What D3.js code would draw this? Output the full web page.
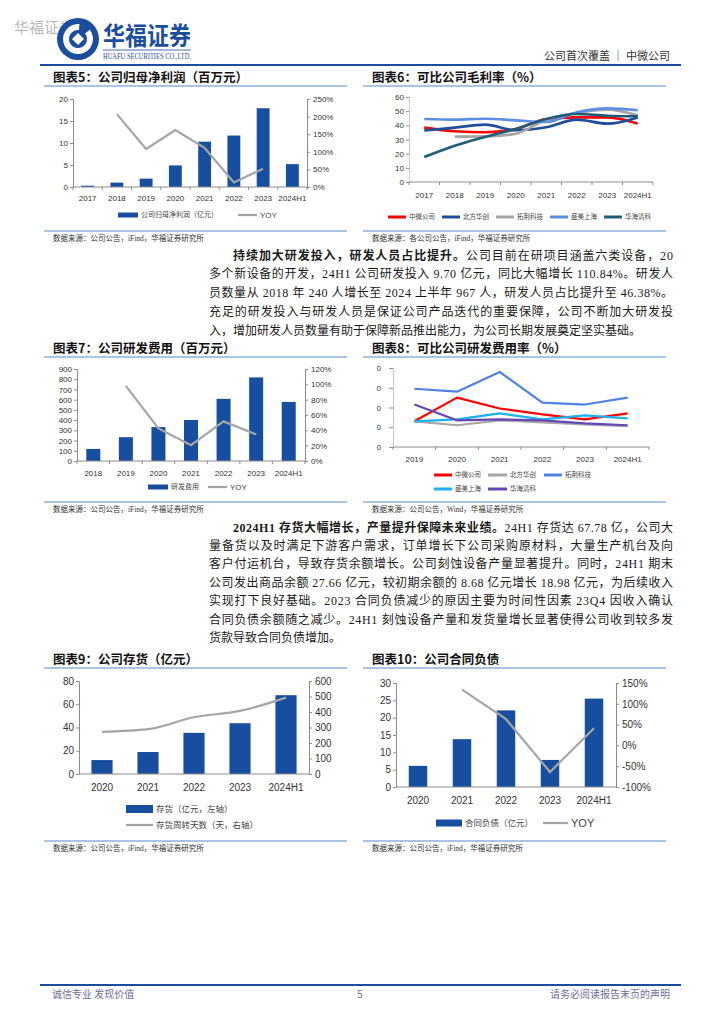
<!DOCTYPE html>
<html><head><meta charset="utf-8">
<script src="https://cdn.jsdelivr.net/npm/d3@7"></script>
<style>body{margin:0;background:#fff}svg{display:block}</style>
</head><body>
<svg id="page" width="724" height="1024"></svg>
<script>
// ---------------- DATA ----------------
const ch5Cats = ["2017","2018","2019","2020","2021","2022","2023","2024H1"];
const ch5Profit = [0.3, 1.0, 1.9, 4.9, 10.3, 11.7, 17.9, 5.2];
const ch5Yoy = [null, 207, 108, 162, 111, 13, 52, null];
const ch5LeftTicks = [0, 5, 10, 15, 20];
const ch5RightTicks = [0, 50, 100, 150, 200, 250];

const ch6Cats = ["2017","2018","2019","2020","2021","2022","2023","2024H1"];
const ch6Names = ["中微公司","北方华创","拓荆科技","盛美上海","华海清科"];
const ch6AMEC = [38.4, 35.8, 35.1, 37.4, 44.5, 45.6, 45.6, 41.2];
const ch6Naura = [36.3, 38.4, 40.5, 36.5, 38.6, 44.0, 41.2, 45.6];
const ch6Piotech = [null, 32.0, 32.2, 34.1, 44.0, 48.7, 51.1, 47.1];
const ch6ACM = [44.5, 44.0, 44.7, 43.5, 42.4, 49.2, 52.0, 50.6];
const ch6Hwatsing = [17.6, 25.6, 31.8, 37.4, 44.5, 48.0, 46.8, 46.4];
const ch6Ticks = [0, 10, 20, 30, 40, 50, 60];

const ch7Cats = ["2018","2019","2020","2021","2022","2023","2024H1"];
const ch7RD = [118, 233, 332, 401, 608, 818, 578];
const ch7Yoy = [null, 98, 42.5, 20.6, 51.7, 34.6, null];
const ch7LeftTicks = [0, 100, 200, 300, 400, 500, 600, 700, 800, 900];
const ch7RightTicks = [0, 20, 40, 60, 80, 100, 120];

const ch8Cats = ["2019","2020","2021","2022","2023","2024H1"];
const ch8Names = ["中微公司","北方华创","拓荆科技","盛美上海","华海清科"];
const ch8AMEC = [13, 25, 19.5, 16.5, 14, 17];
const ch8Naura = [13, 11, 13.5, 12.5, 11.5, 10.5];
const ch8Piotech = [29.5, 28, 38, 22.5, 21.5, 25];
const ch8ACM = [13, 14, 17, 14, 16, 14.5];
const ch8Hwatsing = [21.5, 13.5, 14, 13.5, 12, 11];
const ch8Ticks = [0, 10, 20, 30, 40];

const ch9Cats = ["2020","2021","2022","2023","2024H1"];
const ch9Inventory = [12, 18.9, 35.4, 43.7, 67.8];
const ch9Days = [272, 289, 366, 407, 493];
const ch9LeftTicks = [0, 20, 40, 60, 80];
const ch9RightTicks = [0, 100, 200, 300, 400, 500, 600];

const ch10Cats = ["2020","2021","2022","2023","2024H1"];
const ch10Liab = [6.1, 13.8, 22.1, 7.8, 25.5];
const ch10Yoy = [null, 134, 63, -64, 41];
const ch10LeftTicks = [0, 5, 10, 15, 20, 25, 30];
const ch10RightTicks = [-100, -50, 0, 50, 100, 150];

// ---------------- STYLE ----------------
const svg = d3.select("#page");
const F_NUM = "'Liberation Sans', Arial, sans-serif";
const F_CJK = "'Noto Sans CJK SC', sans-serif";
const F_BODY = "'Liberation Serif', 'Noto Sans CJK SC', serif";
const BLUE = "#1a4d9e";
const BAR = "#174ea0";
const GRAY = "#a5a5a5";
const AXIS = "#8c8c8c";
const RULE = "#8eb1dc";

// ---------------- HEADER ----------------
svg.append("text").attr("x", 14).attr("y", 33).attr("font-family", F_CJK)
  .attr("font-size", 15).attr("fill", "#b8b8b8").text("华福证券");
const logo = svg.append("g").attr("transform", "translate(78,39)");
logo.append("circle").attr("r", 21).attr("fill", BLUE);
logo.append("path").attr("d", d3.arc()({innerRadius: 9, outerRadius: 15, startAngle: 0.9, endAngle: 2 * Math.PI + 0.1}))
  .attr("fill", "#fff");
logo.append("path").attr("d", "M-6,0 L0,-6 L6,0 L0,6 Z").attr("fill", "#fff");
svg.append("text").attr("x", 103).attr("y", 45).attr("font-family", "'Noto Sans CJK SC', serif")
  .attr("font-weight", "bold").attr("font-size", 25).attr("fill", BLUE)
  .attr("textLength", 88).attr("lengthAdjust", "spacingAndGlyphs").text("华福证券");
svg.append("line").attr("x1", 103).attr("x2", 191).attr("y1", 50).attr("y2", 50).attr("stroke", BLUE).attr("stroke-width", 0.8);
svg.append("text").attr("x", 103).attr("y", 59).attr("font-family", "'Liberation Serif', serif")
  .attr("font-size", 7.5).attr("fill", BLUE).attr("textLength", 88).attr("lengthAdjust", "spacingAndGlyphs")
  .text("HUAFU SECURITIES CO.,LTD.");
svg.append("text").attr("x", 670).attr("y", 60).attr("text-anchor", "end").attr("font-family", F_CJK)
  .attr("font-size", 11).attr("fill", "#333").text("公司首次覆盖 ｜ 中微公司");
svg.append("line").attr("x1", 40).attr("x2", 681).attr("y1", 65).attr("y2", 65).attr("stroke", BLUE).attr("stroke-width", 2);

// ---------------- FOOTER ----------------
svg.append("line").attr("x1", 40).attr("x2", 681).attr("y1", 985).attr("y2", 985).attr("stroke", BLUE).attr("stroke-width", 2);
const footStyle = s => s.attr("font-family", F_CJK).attr("font-size", 10).attr("fill", "#6d6d9c");
footStyle(svg.append("text").attr("x", 52).attr("y", 998).text("诚信专业  发现价值"));
footStyle(svg.append("text").attr("x", 357).attr("y", 998).attr("font-family", "'Liberation Serif', serif").text("5"));
footStyle(svg.append("text").attr("x", 670).attr("y", 998).attr("text-anchor", "end").text("请务必阅读报告末页的声明"));

// ---------------- PANEL FRAMES ----------------
function frame(x0, x1, titleBase, ruleY, title, bottomY, source) {
  svg.append("text").attr("x", x0 + 9).attr("y", titleBase).attr("font-family", F_CJK)
    .attr("font-weight", "bold").attr("font-size", 12.5).attr("fill", "#111").text(title);
  svg.append("line").attr("x1", x0).attr("x2", x1).attr("y1", ruleY).attr("y2", ruleY).attr("stroke", RULE).attr("stroke-width", 1.5);
  svg.append("line").attr("x1", x0).attr("x2", x1).attr("y1", bottomY).attr("y2", bottomY).attr("stroke", RULE).attr("stroke-width", 1.5);
  svg.append("text").attr("x", x0 + 9).attr("y", bottomY + 10).attr("font-family", F_BODY)
    .attr("font-size", 7.5).attr("fill", "#333").text(source);
}
frame(44, 347, 82, 86, "图表5：公司归母净利润（百万元）", 231, "数据来源：公司公告，iFind，华福证券研究所");
frame(363, 666, 82, 86, "图表6：可比公司毛利率（%）", 231, "数据来源：各公司公告，iFind，华福证券研究所");
frame(44, 347, 353, 357, "图表7：公司研发费用（百万元）", 502, "数据来源：公司公告，iFind，华福证券研究所");
frame(363, 666, 353, 357, "图表8：可比公司研发费用率（%）", 502, "数据来源：公司公告，Wind，华福证券研究所");
frame(44, 347, 664, 668, "图表9：公司存货（亿元）", 841, "数据来源：公司公告，iFind，华福证券研究所");
frame(363, 666, 664, 668, "图表10：公司合同负债", 841, "数据来源：公司公告，iFind，华福证券研究所");

// ---------------- HELPERS ----------------
function styleAxis(g, fs) {
  g.select(".domain").attr("stroke", AXIS);
  g.selectAll(".tick line").attr("stroke", AXIS);
  g.selectAll(".tick text").attr("font-family", F_NUM).attr("font-size", fs).attr("fill", "#333");
}
function xAxis(x, y0, fs, labelDy, catTicks) {
  const g = svg.append("g").attr("transform", `translate(0,${y0})`)
    .call(d3.axisBottom(x).tickSize(0).tickPadding(labelDy));
  styleAxis(g, fs);
  g.select(".domain").remove();
  const r = x.range();
  svg.append("line").attr("x1", r[0]).attr("x2", r[1]).attr("y1", y0).attr("y2", y0).attr("stroke", AXIS);
  if (catTicks) {
    svg.append("g").selectAll("line").data(d3.range(x.domain().length + 1)).join("line")
      .attr("x1", i => r[0] + i * x.step()).attr("x2", i => r[0] + i * x.step())
      .attr("y1", y0).attr("y2", y0 + 3).attr("stroke", AXIS);
  }
}
function combo(c) {
  const x = d3.scaleBand().domain(c.cats).range([c.x0, c.x1]).paddingInner(c.pad).paddingOuter(c.pad / 2);
  const yL = d3.scaleLinear().domain(c.lDomain).range([c.yB, c.yT]);
  const yR = d3.scaleLinear().domain(c.rDomain).range([c.yB, c.yT]);
  const baseY = yL(0);
  svg.append("g").selectAll("rect").data(c.bars).join("rect")
    .attr("x", (d, i) => x(c.cats[i])).attr("width", x.bandwidth())
    .attr("y", d => yL(d)).attr("height", d => baseY - yL(d)).attr("fill", BAR);
  const gl = svg.append("g").attr("transform", `translate(${c.x0},0)`)
    .call(d3.axisLeft(yL).tickValues(c.lTicks).tickSize(3).tickPadding(2).tickFormat(d3.format("d")));
  styleAxis(gl, c.fs);
  const gr = svg.append("g").attr("transform", `translate(${c.x1},0)`)
    .call(d3.axisRight(yR).tickValues(c.rTicks).tickSize(3).tickPadding(3).tickFormat(c.rFmt));
  styleAxis(gr, c.fs);
  xAxis(x, c.yB, c.fs, c.labelDy, c.catTicks);
  const line = d3.line().defined(d => d != null)
    .x((d, i) => x(c.cats[i]) + x.bandwidth() / 2).y(d => yR(d)).curve(c.curve || d3.curveLinear);
  svg.append("path").attr("d", line(c.line)).attr("fill", "none").attr("stroke", GRAY).attr("stroke-width", 2.2);
  return x;
}
function legendItem(x, y, kind, color, label, fs, font, w, h) {
  w = w || 20;
  if (kind === "rect") {
    svg.append("rect").attr("x", x).attr("y", y - (h || 5) / 2).attr("width", w).attr("height", h || 5).attr("fill", color);
  } else {
    svg.append("line").attr("x1", x).attr("x2", x + w).attr("y1", y).attr("y2", y)
      .attr("stroke", color).attr("stroke-width", h || 2.5);
  }
  svg.append("text").attr("x", x + w + 3).attr("y", y).attr("dy", "0.35em")
    .attr("font-family", font || F_CJK).attr("font-size", fs).attr("fill", "#444").text(label);
}
function multiLine(c) {
  const x = d3.scaleBand().domain(c.cats).range([c.x0, c.x1]).padding(0);
  const y = d3.scaleLinear().domain(c.domain).range([c.yB, c.yT]);
  const line = d3.line().defined(d => d != null)
    .x((d, i) => x(c.cats[i]) + x.bandwidth() / 2).y(d => y(d)).curve(c.curve);
  c.series.forEach((s, k) => {
    svg.append("path").attr("d", line(s)).attr("fill", "none")
      .attr("stroke", c.colors[k]).attr("stroke-width", c.sw).attr("stroke-linejoin", "round");
  });
  const gl = svg.append("g").attr("transform", `translate(${c.x0},0)`)
    .call(d3.axisLeft(y).tickValues(c.ticks).tickSize(c.tickSize || 3).tickPadding(c.tickPad || 2));
  styleAxis(gl, c.fs);
  gl.select(".domain").attr("stroke", "#c8c8c8");
  if (c.clipLabels) {
    // labels are cut at the panel edge in the source, leaving only the last digit visible
    const cp = svg.append("clipPath").attr("id", c.clipLabels.id);
    cp.append("rect").attr("x", c.clipLabels.x - c.x0).attr("y", c.yT - 15)
      .attr("width", c.x0 - c.clipLabels.x + 10).attr("height", c.yB - c.yT + 30);
    gl.attr("clip-path", `url(#${c.clipLabels.id})`);
  }
  xAxis(x, c.yB, c.fs, c.labelDy, true);
  return x;
}

// ---------------- CHART 5 ----------------
combo({cats: ch5Cats, bars: ch5Profit, line: ch5Yoy, x0: 73, x1: 307, yB: 187, yT: 99,
  lDomain: [0, 20], lTicks: ch5LeftTicks, rDomain: [0, 250], rTicks: ch5RightTicks,
  rFmt: d => d + "%", fs: 8, pad: 0.56, labelDy: 8, catTicks: true});
legendItem(118, 215, "rect", BAR, "公司归母净利润（亿元）", 7, F_CJK, 20, 5);
legendItem(238, 215, "line", GRAY, "YOY", 8, F_NUM, 19, 2.2);

// ---------------- CHART 6 ----------------
const c6Colors = ["#ff0000", "#1f4e9c", "#a6a6a6", "#5b8fe6", "#1f5c78"];
multiLine({cats: ch6Cats, x0: 409, x1: 653, yB: 182, yT: 97, domain: [0, 60], ticks: ch6Ticks,
  series: [ch6AMEC, ch6Naura, ch6Piotech, ch6ACM, ch6Hwatsing], colors: c6Colors,
  sw: 2.6, curve: d3.curveMonotoneX, fs: 8, labelDy: 10});
ch6Names.forEach((n, i) => legendItem(388 + i * 54, 217, "line", c6Colors[i], n, 6.5, F_CJK, 18, 3));

// ---------------- CHART 7 ----------------
combo({cats: ch7Cats, bars: ch7RD, line: ch7Yoy, x0: 77, x1: 305, yB: 461, yT: 369,
  lDomain: [0, 900], lTicks: ch7LeftTicks, rDomain: [0, 120], rTicks: ch7RightTicks,
  rFmt: d => d + "%", fs: 8, pad: 0.57, labelDy: 9, catTicks: true});
legendItem(148, 487, "rect", BAR, "研发费用", 7, F_CJK, 20, 5);
legendItem(208, 487, "line", GRAY, "YOY", 8, F_NUM, 19, 2.2);

// ---------------- CHART 8 ----------------
const c8Colors = ["#ff0000", "#a6a6a6", "#4f83e3", "#1cb0ee", "#6447b5"];
multiLine({cats: ch8Cats, x0: 393, x1: 649, yB: 447, yT: 368, domain: [0, 40], ticks: ch8Ticks,
  series: [ch8AMEC, ch8Naura, ch8Piotech, ch8ACM, ch8Hwatsing], colors: c8Colors,
  sw: 2.2, curve: d3.curveLinear, fs: 8, labelDy: 9, tickSize: 4, tickPad: 8,
  clipLabels: {id: "c8clip", x: 376.6}});
legendItem(434, 475, "line", c8Colors[0], ch8Names[0], 6.5, F_CJK, 18, 3);
legendItem(488, 475, "line", c8Colors[1], ch8Names[1], 6.5, F_CJK, 19, 3);
legendItem(544, 475, "line", c8Colors[2], ch8Names[2], 6.5, F_CJK, 18, 3);
legendItem(434, 489, "line", c8Colors[3], ch8Names[3], 6.5, F_CJK, 18, 3);
legendItem(488, 489, "line", c8Colors[4], ch8Names[4], 6.5, F_CJK, 19, 3);

// ---------------- CHART 9 ----------------
combo({cats: ch9Cats, bars: ch9Inventory, line: ch9Days, x0: 79, x1: 309, yB: 774, yT: 681,
  lDomain: [0, 80], lTicks: ch9LeftTicks, rDomain: [0, 600], rTicks: ch9RightTicks,
  rFmt: d3.format("d"), fs: 10, pad: 0.54, labelDy: 10, catTicks: false, curve: d3.curveMonotoneX});
legendItem(126, 809, "rect", BAR, "存货（亿元，左轴）", 8.5, F_CJK, 27, 8);
legendItem(126, 825, "line", GRAY, "存货周转天数（天，右轴）", 8.5, F_CJK, 27, 2.2);

// ---------------- CHART 10 ----------------
combo({cats: ch10Cats, bars: ch10Liab, line: ch10Yoy, x0: 396, x1: 616, yB: 787, yT: 683,
  lDomain: [0, 30], lTicks: ch10LeftTicks, rDomain: [-100, 150], rTicks: ch10RightTicks,
  rFmt: d => d + "%", fs: 10, pad: 0.58, labelDy: 10, catTicks: false});
legendItem(436, 823, "rect", BAR, "合同负债（亿元）", 8.5, F_CJK, 26, 7);
legendItem(543, 823, "line", GRAY, "YOY", 11, F_NUM, 25, 2.2);

// ---------------- BODY TEXT ----------------
const RIGHT = 673;
function bodyLine(x, y, parts, justify) {
  const t = svg.append("text").attr("x", x).attr("y", y).attr("font-family", F_BODY)
    .attr("font-size", 12).attr("fill", "#1a1a1a");
  parts.forEach(p => t.append("tspan").attr("font-weight", p[1] ? "bold" : "normal").text(p[0]));
  if (justify) t.attr("textLength", RIGHT - x).attr("lengthAdjust", "spacing");
}
const para1 = [
  [233, [["持续加大研发投入，研发人员占比提升。", 1], ["公司目前在研项目涵盖六类设备，20", 0]], true],
  [209, [["多个新设备的开发，24H1 公司研发投入 9.70 亿元，同比大幅增长 110.84%。研发人", 0]], true],
  [209, [["员数量从 2018 年 240 人增长至 2024 上半年 967 人，研发人员占比提升至 46.38%。", 0]], true],
  [209, [["充足的研发投入与研发人员是保证公司产品迭代的重要保障，公司不断加大研发投", 0]], true],
  [209, [["入，增加研发人员数量有助于保障新品推出能力，为公司长期发展奠定坚实基础。", 0]], false]
];
para1.forEach((l, i) => bodyLine(l[0], 259.5 + i * 18.8, l[1], l[2]));
const para2 = [
  [233, [["2024H1 存货大幅增长，产量提升保障未来业绩。", 1], ["24H1 存货达 67.78 亿，公司大", 0]], true],
  [209, [["量备货以及时满足下游客户需求，订单增长下公司采购原材料，大量生产机台及向", 0]], true],
  [209, [["客户付运机台，导致存货余额增长。公司刻蚀设备产量显著提升。同时，24H1 期末", 0]], true],
  [209, [["公司发出商品余额 27.66 亿元，较初期余额的 8.68 亿元增长 18.98 亿元，为后续收入", 0]], true],
  [209, [["实现打下良好基础。2023 合同负债减少的原因主要为时间性因素 23Q4 因收入确认", 0]], true],
  [209, [["合同负债余额随之减少。24H1 刻蚀设备产量和发货量增长显著使得公司收到较多发", 0]], true],
  [209, [["货款导致合同负债增加。", 0]], false]
];
para2.forEach((l, i) => bodyLine(l[0], 531.5 + i * 18.4, l[1], l[2]));
</script>
</body></html>
